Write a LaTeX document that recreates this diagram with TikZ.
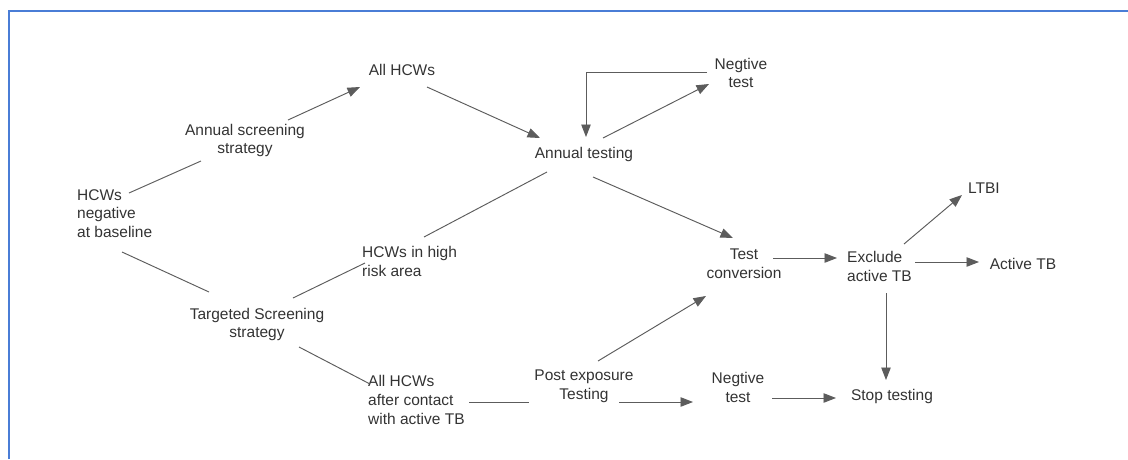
\documentclass[tikz,border=0pt]{standalone}
\usepackage{fontspec}
\setmainfont{Liberation Sans}
\usepackage{tikz}
\usetikzlibrary{arrows.meta}
\definecolor{linegray}{RGB}{92,92,92}
\definecolor{textgray}{RGB}{51,51,51}
\definecolor{frameblue}{RGB}{74,125,214}
\tikzset{
  txt/.style={%
    inner sep=0,
    text=textgray,
    font=\fontsize{15.5}{18.7}\selectfont,
  },
  link/.style={draw=linegray, line width=0.95pt},
  flow/.style={link, -{Triangle[length=12.5pt,width=9.5pt]}},
}

\begin{document}
\begin{tikzpicture}[x=1pt,y=-1pt]
    \useasboundingbox (0,0) rectangle (1128,459);
    % frame
    \draw [frameblue, line width=1.8pt] (8.7,459) -- (8.7,11.2) -- (1128,11.2);
    % left part
    \node (base) [txt,align=left,anchor=west] at (77,213.5) {HCWs\\negative\\at baseline};
    \node (ass) [txt,align=center] at (245,140.5) {Annual screening\\strategy};
    \node (tss) [txt,align=center] at (257,324.5) {Targeted Screening\\strategy};
    \node (allh) [txt] at (402,70) {All HCWs};
    \node (high) [txt,align=left,anchor=west] at (362,261.5) {HCWs in high\\risk area};
    \node (contact) [txt,align=left,anchor=west] at (368,400) {All HCWs\\after contact\\with active TB};
    % middle
    \node (annual) [txt] at (584,154) {Annual testing};
    \node (neg1) [txt,align=center] at (741,73) {Negtive\\test};
    \node (conv) [txt,align=center] at (744,263.5) {Test\\conversion};
    \node (post) [txt,align=center] at (584,386.5) {Post exposure\\Testing};
    \node (neg2) [txt,align=center] at (738,387.5) {Negtive\\test};
    % right part
    \node (excl) [txt,align=left,anchor=west] at (847,266.5) {Exclude\\active TB};
    \node (ltbi) [txt] at (984,188) {LTBI};
    \node (active) [txt] at (1023,264) {Active TB};
    \node (stop) [txt] at (892,396) {Stop testing};

    \draw [link] ([shift={(52,-20.5)}]base.west) -- ([shift={(-44,20.5)}]ass.center);
    \draw [flow] ([shift={(43,-20.5)}]ass.center) -- ([shift={(-42,17)}]allh.center);
    \draw [link] ([shift={(45,38.5)}]base.west) -- ([shift={(-48,-32.5)}]tss.center);
    \draw [link] ([shift={(36,-26.5)}]tss.center) -- ([shift={(3,1.5)}]high.west);
    \draw [link] ([shift={(62,-24.5)}]high.west) -- ([shift={(-37,18)}]annual.center);
    \draw [link] ([shift={(42,22.5)}]tss.center) -- ([shift={(2,-16)}]contact.west);
    \draw [flow] ([shift={(25,17)}]allh.center) -- ([shift={(-44,-16)}]annual.center);
    \draw [flow] ([shift={(-34,-1)}]neg1.center) -| ([shift={(2,-17)}]annual.center);
    \draw [flow] ([shift={(19,-16)}]annual.center) -- ([shift={(-32,11)}]neg1.center);
    \draw [flow] ([shift={(9,23)}]annual.center) -- ([shift={(-11,-25.5)}]conv.center);
    \draw [link] ([shift={(101,2)}]contact.west) -- ([shift={(-55,15.5)}]post.center);
    \draw [flow] ([shift={(14,-25.5)}]post.center) -- ([shift={(-38,32.5)}]conv.center);
    \draw [flow] ([shift={(35,15.5)}]post.center) -- ([shift={(-45,14.5)}]neg2.center);
    \draw [flow] ([shift={(34,10.5)}]neg2.center) -- ([shift={(-56,2)}]stop.center);
    \draw [flow] ([shift={(29,-5.5)}]conv.center) -- ([shift={(-10,-8.5)}]excl.west);
    \draw [flow] ([shift={(57,-22.5)}]excl.west) -- ([shift={(-22,7)}]ltbi.center);
    \draw [flow] ([shift={(68,-4.5)}]excl.west) -- ([shift={(-44,-2)}]active.center);
    \draw [flow] ([shift={(39,26.5)}]excl.west) -- ([shift={(-6,-16)}]stop.center);
\end{tikzpicture}
\end{document}
